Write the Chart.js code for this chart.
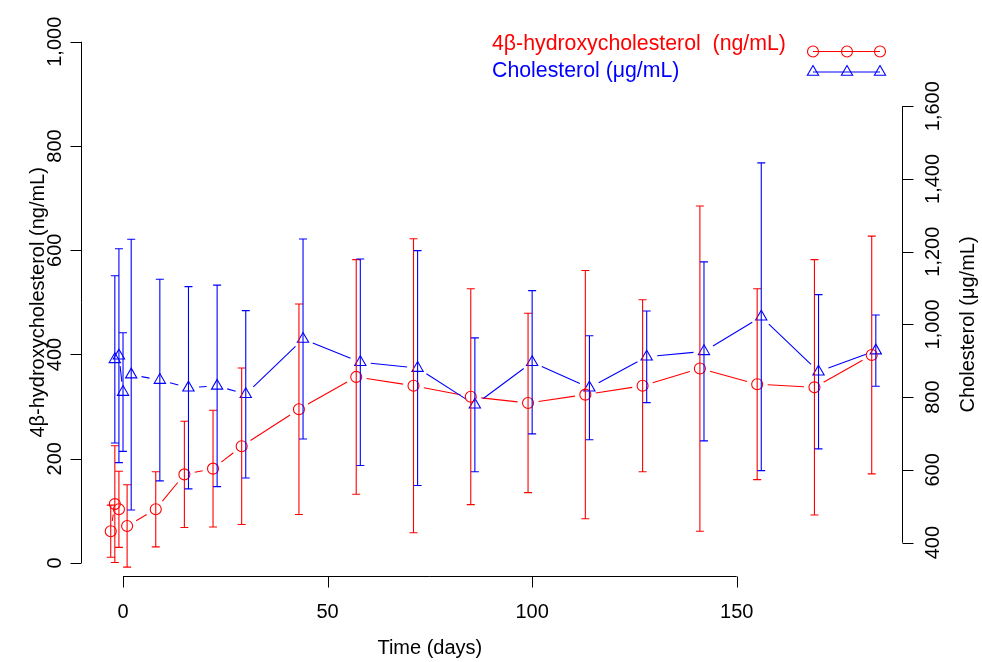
<!DOCTYPE html>
<html>
<head>
<meta charset="utf-8">
<script src="https://cdn.jsdelivr.net/npm/chart.js@4"></script>
<style>
  html, body { margin: 0; padding: 0; background: #fff; }
  #wrap { width: 982px; height: 662px; }
</style>
</head>
<body>
<div id="wrap"><canvas id="main_chart"></canvas></div>
<script>
const days_hydroxy = [-3, -2, -1, 1, 8, 15, 22, 29, 43, 57, 71, 85, 99, 113, 127, 141, 155, 169, 183];
const hydroxy_mean = [61, 113, 103, 71, 103, 170, 181, 224, 295, 357, 340, 319, 307, 323, 340, 373, 343, 337, 399];
const hydroxy_err = [50, 112, 73, 79, 72, 102, 112, 150, 202, 225, 282, 207, 172, 238, 165, 312, 183, 245, 228];

const days_chol = [-2, -1, 0, 2, 9, 16, 23, 30, 44, 58, 72, 86, 100, 114, 128, 142, 156, 170, 184];
const chol_mean = [904, 914, 814, 862, 847, 826, 831, 808, 960, 896, 880, 779, 896, 826, 911, 926, 1021, 870, 928];
const chol_err = [230, 294, 163, 372, 277, 278, 277, 230, 275, 284, 323, 184, 197, 143, 126, 246, 423, 212, 98];

const x_ticks = [0, 50, 100, 150];
const left_ticks = [0, 200, 400, 600, 800, 1000];
const right_ticks = [400, 600, 800, 1000, 1200, 1400, 1600];

const x_title = 'Time (days)';
const left_title = '4\u03b2-hydroxycholesterol (ng/mL)';
const right_title = 'Cholesterol (\u03bcg/mL)';
const legend_labels = ['4\u03b2-hydroxycholesterol  (ng/mL)', 'Cholesterol (\u03bcg/mL)'];

const RED = '#ff0000';
const BLUE = '#0000ff';
const FONT = "'Liberation Sans', Arial, Helvetica, sans-serif";
const fmt = v => v.toLocaleString('en-US');

const to_points = (xs, ys) => xs.map((x, i) => ({ x: x, y: ys[i] }));

// lines between points, stopped short of the symbols (R type = "b")
const gapped_lines = {
  id: 'gapped_lines',
  beforeDatasetsDraw(chart) {
    const ctx = chart.ctx;
    const gap = 10.5;
    chart.data.datasets.forEach((ds, i) => {
      const pts = chart.getDatasetMeta(i).data;
      ctx.save();
      ctx.strokeStyle = ds.borderColor;
      ctx.lineWidth = 1.1;
      ctx.beginPath();
      for (let k = 1; k < pts.length; k++) {
        const a = pts[k - 1], b = pts[k];
        const dx = b.x - a.x, dy = b.y - a.y;
        const len = Math.sqrt(dx * dx + dy * dy);
        if (len <= 2 * gap) continue;
        const ux = dx / len, uy = dy / len;
        ctx.moveTo(a.x + ux * gap, a.y + uy * gap);
        ctx.lineTo(b.x - ux * gap, b.y - uy * gap);
      }
      ctx.stroke();
      ctx.restore();
    });
  }
};

const error_bars = {
  id: 'error_bars',
  afterDatasetsDraw(chart) {
    const ctx = chart.ctx;
    const xs = chart.scales.x;
    chart.data.datasets.forEach((ds) => {
      const ys = chart.scales[ds.yAxisID];
      ctx.save();
      ctx.strokeStyle = ds.borderColor;
      ctx.lineWidth = 1.1;
      ctx.beginPath();
      ds.data.forEach((p, j) => {
        const px = xs.getPixelForValue(p.x);
        const top = ys.getPixelForValue(p.y + ds.errors[j]);
        const bot = ys.getPixelForValue(p.y - ds.errors[j]);
        ctx.moveTo(px, top); ctx.lineTo(px, bot);
        ctx.moveTo(px - 4, top); ctx.lineTo(px + 4, top);
        ctx.moveTo(px - 4, bot); ctx.lineTo(px + 4, bot);
      });
      ctx.stroke();
      ctx.restore();
    });
  }
};

const rotated_text = (ctx, text, x, y) => {
  ctx.save();
  ctx.translate(x, y);
  ctx.rotate(-Math.PI / 2);
  ctx.fillText(text, 0, 0);
  ctx.restore();
};

// R style axes: the lines only run between the first and last tick
const r_axes = {
  id: 'r_axes',
  afterDraw(chart) {
    const ctx = chart.ctx;
    const area = chart.chartArea;
    const xs = chart.scales.x, yl = chart.scales.y, yr = chart.scales.y1;
    const tick = 11;
    ctx.save();
    ctx.strokeStyle = '#000';
    ctx.fillStyle = '#000';
    ctx.lineWidth = 1;
    ctx.textAlign = 'center';
    ctx.textBaseline = 'middle';
    ctx.font = '20px ' + FONT;

    // bottom
    const by = Math.round(area.bottom) + 0.5;
    ctx.beginPath();
    ctx.moveTo(xs.getPixelForValue(x_ticks[0]), by);
    ctx.lineTo(xs.getPixelForValue(x_ticks[x_ticks.length - 1]), by);
    x_ticks.forEach(t => {
      const px = Math.round(xs.getPixelForValue(t)) + 0.5;
      ctx.moveTo(px, by); ctx.lineTo(px, by + tick);
    });
    ctx.stroke();
    x_ticks.forEach(t => ctx.fillText(fmt(t), xs.getPixelForValue(t), 612));
    const xmid = (xs.getPixelForValue(x_ticks[0]) + xs.getPixelForValue(x_ticks[x_ticks.length - 1])) / 2;
    ctx.fillText(x_title, xmid, 648);

    // left
    const lx = Math.round(area.left) + 0.5;
    ctx.beginPath();
    ctx.moveTo(lx, yl.getPixelForValue(left_ticks[0]));
    ctx.lineTo(lx, yl.getPixelForValue(left_ticks[left_ticks.length - 1]));
    left_ticks.forEach(t => {
      const py = Math.round(yl.getPixelForValue(t)) + 0.5;
      ctx.moveTo(lx, py); ctx.lineTo(lx - tick, py);
    });
    ctx.stroke();
    left_ticks.forEach(t => rotated_text(ctx, fmt(t), 55, yl.getPixelForValue(t)));
    const lmid = (yl.getPixelForValue(left_ticks[0]) + yl.getPixelForValue(left_ticks[left_ticks.length - 1])) / 2;
    rotated_text(ctx, left_title, 38, lmid);

    // right
    const rx = Math.round(area.right) + 0.5;
    ctx.beginPath();
    ctx.moveTo(rx, yr.getPixelForValue(right_ticks[0]));
    ctx.lineTo(rx, yr.getPixelForValue(right_ticks[right_ticks.length - 1]));
    right_ticks.forEach(t => {
      const py = Math.round(yr.getPixelForValue(t)) + 0.5;
      ctx.moveTo(rx, py); ctx.lineTo(rx + tick, py);
    });
    ctx.stroke();
    right_ticks.forEach(t => rotated_text(ctx, fmt(t), 933, yr.getPixelForValue(t)));
    const rmid = (yr.getPixelForValue(right_ticks[0]) + yr.getPixelForValue(right_ticks[right_ticks.length - 1])) / 2;
    rotated_text(ctx, right_title, 968, rmid);
    ctx.restore();
  }
};

const r_legend = {
  id: 'r_legend',
  afterDraw(chart) {
    const ctx = chart.ctx;
    ctx.save();
    ctx.font = '21.3px ' + FONT;
    ctx.textAlign = 'left';
    ctx.textBaseline = 'alphabetic';
    ctx.fillStyle = RED;
    ctx.fillText(legend_labels[0], 492, 50);
    ctx.fillStyle = BLUE;
    ctx.fillText(legend_labels[1], 492, 77);

    const sym_x = [813, 847, 880];
    const rows = [
      { y: 51.5, color: RED, style: 'circle', r: 5.5 },
      { y: 72, color: BLUE, style: 'triangle', r: 6.5 },
    ];
    rows.forEach(row => {
      ctx.strokeStyle = row.color;
      ctx.fillStyle = 'rgba(0,0,0,0)';
      ctx.lineWidth = 1.1;
      ctx.beginPath();
      ctx.moveTo(sym_x[0], row.y);
      ctx.lineTo(sym_x[2], row.y);
      ctx.stroke();
      sym_x.forEach(x => {
        Chart.helpers.drawPoint(ctx, { pointStyle: row.style, radius: row.r, borderWidth: 1.1, rotation: 0 }, x, row.y);
      });
    });
    ctx.restore();
  }
};

new Chart('main_chart', {
  type: 'scatter',
  data: {
    datasets: [
      {
        label: legend_labels[0],
        data: to_points(days_hydroxy, hydroxy_mean),
        errors: hydroxy_err,
        yAxisID: 'y',
        borderColor: RED,
        backgroundColor: 'rgba(0,0,0,0)',
        pointStyle: 'circle',
        pointRadius: 5.5,
        pointBorderWidth: 1.1,
        showLine: false,
      },
      {
        label: legend_labels[1],
        data: to_points(days_chol, chol_mean),
        errors: chol_err,
        yAxisID: 'y1',
        borderColor: BLUE,
        backgroundColor: 'rgba(0,0,0,0)',
        pointStyle: 'triangle',
        pointRadius: 6.5,
        pointBorderWidth: 1.1,
        showLine: false,
      },
    ]
  },
  options: {
    responsive: true,
    maintainAspectRatio: false,
    animation: false,
    layout: { padding: { left: 81, right: 80, top: 28.7, bottom: 86 } },
    plugins: {
      legend: { display: false },
      tooltip: { enabled: false },
    },
    scales: {
      x: { type: 'linear', min: -10.27, max: 190.4, display: false },
      y: { type: 'linear', min: -24.94, max: 1025, display: false },
      y1: { type: 'linear', min: 308.4, max: 1813, display: false, position: 'right' },
    }
  },
  plugins: [gapped_lines, error_bars, r_axes, r_legend],
});
</script>
</body>
</html>
